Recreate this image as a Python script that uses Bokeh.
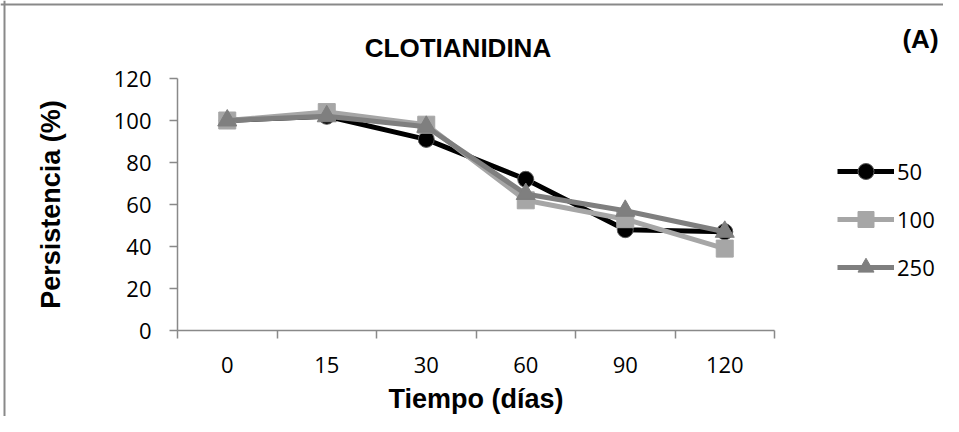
from bokeh.plotting import figure
from bokeh.models import (FixedTicker, Legend, LegendItem, Label, Span, Range1d)
from bokeh.embed import file_html
from bokeh.resources import INLINE

# ---- data ----
dias = ["0", "15", "30", "60", "90", "120"]
series_names = ["50", "100", "250"]
s50 = [100, 102, 91, 72, 48, 47]
s100 = [100, 104, 98, 62, 53, 39]
s250 = [100, 102, 97, 65, 57, 47]
y_ticks = [0, 20, 40, 60, 80, 100, 120]
y_max = 120

# ---- layout geometry (canvas pixels) ----
W, H = 943, 416
AX_L, AX_R = 177, 774      # x axis extent
AX_B, AX_T = 330, 78       # y=0 and y=120 positions
ppx = (AX_R - AX_L) / len(dias)
ppy = (AX_B - AX_T) / y_max


def cx(px):
    return (px - AX_L) / ppx


def cy(py):
    return (AX_B - py) / ppy


p = figure(width=W, height=H, output_backend="svg", toolbar_location=None,
           x_range=Range1d(cx(0), cx(W)), y_range=Range1d(cy(H), cy(0)),
           min_border=0, min_border_left=0, min_border_right=0,
           min_border_top=0, min_border_bottom=0)
p.outline_line_color = None
p.grid.visible = False
p.background_fill_color = "white"
p.border_fill_color = "white"

xs = [i + 0.5 for i in range(len(dias))]

axis_col = "#898989"
tick_font = "Open Sans"

# x axis
xa = p.xaxis[0]
xa.fixed_location = 0
xa.bounds = (0, len(dias))
xa.ticker = FixedTicker(ticks=xs, minor_ticks=list(range(len(dias) + 1)))
xa.major_label_overrides = {x: d for x, d in zip(xs, dias)}
xa.major_tick_out = 0
xa.major_tick_in = 0
xa.minor_tick_out = 8
xa.minor_tick_in = 0
xa.minor_tick_line_color = axis_col
xa.minor_tick_line_width = 1.5
xa.axis_line_color = axis_col
xa.axis_line_width = 1.5
xa.major_label_text_font = tick_font
xa.major_label_text_font_size = "22px"
xa.major_label_text_color = "black"
xa.major_label_standoff = 18
xa.axis_label = "Tiempo (días)"
xa.axis_label_text_font = "Liberation Sans"
xa.axis_label_text_font_style = "bold"
xa.axis_label_text_font_size = "27px"
xa.axis_label_text_color = "black"
xa.axis_label_standoff = 8

# y axis
ya = p.yaxis[0]
ya.fixed_location = 0
ya.bounds = (0, y_max)
ya.ticker = FixedTicker(ticks=y_ticks, minor_ticks=[])
ya.major_tick_out = 8
ya.major_tick_in = 0
ya.major_tick_line_color = axis_col
ya.major_tick_line_width = 1.5
ya.axis_line_color = axis_col
ya.axis_line_width = 1.5
ya.major_label_text_font = tick_font
ya.major_label_text_font_size = "22px"
ya.major_label_text_color = "black"
ya.major_label_standoff = 18
ya.axis_label = "Persistencia (%)"
ya.axis_label_text_font = "Liberation Sans"
ya.axis_label_text_font_style = "bold"
ya.axis_label_text_font_size = "27px"
ya.axis_label_text_color = "black"
ya.axis_label_standoff = 45

# chart border (top/left visible, right/bottom cropped like the reference)
p.add_layout(Span(location=cy(4), dimension="width", line_color=axis_col, line_width=2))
p.add_layout(Span(location=cx(4), dimension="height", line_color=axis_col, line_width=2))

colors = ["#000000", "#a6a6a6", "#7f7f7f"]
markers = ["circle", "square", "triangle"]
sizes = [16, 17, 19]
values = [s50, s100, s250]
items = []
for name, vals, col, mk, sz in zip(series_names, values, colors, markers, sizes):
    lr = p.line(xs, vals, line_color=col, line_width=5, line_join="round")
    edge = "#595959" if mk == "circle" else col
    sr = p.scatter(xs, vals, marker=mk, size=sz, fill_color=col, line_color=edge,
                   line_width=1)
    items.append(LegendItem(label=name, renderers=[lr, sr]))

legend = Legend(items=items, location=(837, 129))
legend.glyph_width = 57
legend.glyph_height = 40
legend.label_height = 40
legend.spacing = 8
legend.padding = 0
legend.margin = 0
legend.label_standoff = 3
legend.border_line_color = None
legend.background_fill_alpha = 0
legend.label_text_font = tick_font
legend.label_text_font_size = "22px"
legend.label_text_color = "black"
p.add_layout(legend)

title = Label(x=cx(457.5), y=cy(47), text="CLOTIANIDINA",
              text_align="center", text_baseline="middle",
              text_font="Liberation Sans", text_font_style="bold",
              text_font_size="26px", text_color="black")
p.add_layout(title)
tag = Label(x=cx(920), y=cy(38), text="(A)",
            text_align="center", text_baseline="middle",
            text_font="Liberation Sans", text_font_style="bold",
            text_font_size="26px", text_color="black")
p.add_layout(tag)

open("out.html", "w").write(file_html(p, INLINE))
